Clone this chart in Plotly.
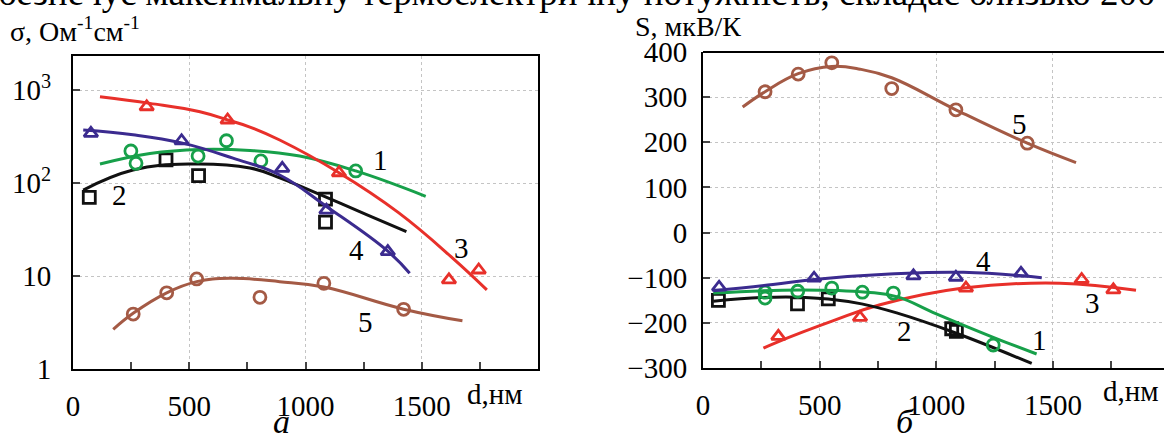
import math
import plotly.graph_objects as go

# ---------------- data: panel a (conductivity, log scale) ----------------
# markers
a1_d = [249, 271, 538, 660, 808, 1216]
a1_s = [221, 163, 195, 285, 173, 135]
a2_d = [70, 400, 540, 1086, 1086]
a2_s = [70, 177, 120, 67, 38]
a3_d = [317, 665, 1144, 1617, 1745]
a3_s = [661, 476, 129, 9.1, 11.6]
a4_d = [77, 467, 900, 1090, 1354]
a4_s = [342, 285, 144, 51, 18.3]
a5_d = [259, 403, 532, 804, 1079, 1422]
a5_s = [3.9, 6.6, 9.3, 5.9, 8.35, 4.38]
# fitted curves
a1_cd = [116, 331, 546, 761, 975, 1216, 1517]
a1_cs = [160, 208, 230, 224, 195, 135, 72]
a2_cd = [44, 258, 503, 761, 889, 975, 1086, 1260, 1434]
a2_cs = [84, 138, 160, 145, 114, 93, 71, 46, 30]
a3_cd = [116, 331, 546, 665, 761, 889, 1144, 1400, 1634, 1780]
a3_cs = [847, 719, 585, 476, 400, 290, 129, 48, 15.5, 7.1]
a4_cd = [44, 258, 467, 688, 889, 1090, 1354, 1448]
a4_cs = [371, 330, 270, 185, 122, 56, 18.5, 10.7]
a5_cd = [173, 260, 403, 532, 675, 889, 1079, 1422, 1675]
a5_cs = [2.67, 4.0, 6.6, 8.7, 9.45, 8.7, 7.6, 4.4, 3.3]

# ---------------- data: panel b (Seebeck coefficient) ----------------
b1_d = [266, 266, 406, 552, 683, 816, 1244]
b1_S = [-132, -145, -130, -123, -132, -134, -249]
b2_d = [66, 405, 537, 1066, 1086]
b2_S = [-150, -158, -147, -213, -219]
b3_d = [323, 673, 1127, 1623, 1759]
b3_S = [-230, -188, -123, -104, -127]
b4_d = [69, 476, 902, 1084, 1363]
b4_S = [-121, -101, -96, -99, -90]
b5_d = [266, 408, 552, 809, 1084, 1390]
b5_S = [312, 351, 376, 319, 272, 198]

b1_cd = [44, 416, 702, 830, 1000, 1244, 1430]
b1_cS = [-134, -127, -132, -142, -180, -232, -269]
b2_cd = [44, 250, 400, 537, 680, 830, 1086, 1409]
b2_cS = [-152, -144, -143, -147, -158, -178, -223, -290]
b3_cd = [259, 316, 559, 759, 1116, 1530, 1856]
b3_cS = [-256, -243, -195, -160, -123, -112, -128]
b4_cd = [44, 300, 476, 800, 1116, 1452]
b4_cS = [-129, -115, -104, -92, -88, -100]
b5_cd = [170, 266, 408, 552, 673, 809, 1084, 1390, 1599]
b5_cS = [278, 312, 352, 368, 362, 343, 272, 198, 155]

# curve labels
a_lab_txt = ["1", "2", "3", "4", "5"]
a_lab_d = [1324, 202, 1670, 1219, 1259]
a_lab_s = [177, 74, 20, 19, 3.2]
b_lab_txt = ["1", "2", "3", "4", "5"]
b_lab_d = [1441, 862, 1669, 1201, 1356]
b_lab_S = [-238, -219, -156, -64, 240]

x_ticks = [0, 500, 1000, 1500]
a_yticks = [1, 10, 100, 1000]
a_yticktext = ["1", "10", "10<sup>2</sup>", "10<sup>3</sup>"]
b_yticks = [-300, -200, -100, 0, 100, 200, 300, 400]

RED = "#e8302a"
GREEN = "#17a04a"
PURPLE = "#3b2b8f"
BLACK = "#111111"
BROWN = "#a45a45"
FONT = "Liberation Serif, Times New Roman, DejaVu Serif, serif"

fig = go.Figure()

def add_series(xc, yc, xm, ym, color, symbol, xa, ya):
    fig.add_trace(go.Scatter(x=xc, y=yc, mode="lines",
                             line=dict(color=color, width=3, shape="spline", smoothing=1.2),
                             xaxis=xa, yaxis=ya, showlegend=False, hoverinfo="skip"))
    fig.add_trace(go.Scatter(x=xm, y=ym, mode="markers",
                             marker=dict(symbol=symbol, size=12, color=color,
                                         line=dict(color=color, width=2.8)),
                             xaxis=xa, yaxis=ya, showlegend=False))

add_series(a5_cd, a5_cs, a5_d, a5_s, BROWN, "circle-open", "x", "y")
add_series(a2_cd, a2_cs, a2_d, a2_s, BLACK, "square-open", "x", "y")
add_series(a1_cd, a1_cs, a1_d, a1_s, GREEN, "circle-open", "x", "y")
add_series(a4_cd, a4_cs, a4_d, a4_s, PURPLE, "triangle-up-open", "x", "y")
add_series(a3_cd, a3_cs, a3_d, a3_s, RED, "triangle-up-open", "x", "y")

add_series(b5_cd, b5_cS, b5_d, b5_S, BROWN, "circle-open", "x2", "y2")
add_series(b3_cd, b3_cS, b3_d, b3_S, RED, "triangle-up-open", "x2", "y2")
add_series(b2_cd, b2_cS, b2_d, b2_S, BLACK, "square-open", "x2", "y2")
add_series(b1_cd, b1_cS, b1_d, b1_S, GREEN, "circle-open", "x2", "y2")
add_series(b4_cd, b4_cS, b4_d, b4_S, PURPLE, "triangle-up-open", "x2", "y2")

W, H = 1164, 439
def px(x):
    return x / W
def py(y):
    return 1 - y / H

tickfont = dict(family=FONT, size=29, color="black")
grid = dict(showgrid=True, gridcolor="#c4c4c4", griddash="dot", gridwidth=1)
common = dict(ticks="inside", ticklen=7, tickwidth=1.5, showline=True, linewidth=2, linecolor="black",
              zeroline=False, tickfont=tickfont, automargin=False)

fig.update_layout(
    width=W, height=H, margin=dict(l=0, r=0, t=0, b=0, autoexpand=False),
    paper_bgcolor="white", plot_bgcolor="white",
    font=dict(family=FONT, color="black"),
    xaxis=dict(domain=[px(73), px(538)], range=[0, 2000], tickvals=x_ticks, mirror=True,
               ticklabelstandoff=10,
               minor=dict(dtick=250, ticks="inside", ticklen=7, tickwidth=1.5, showgrid=False),
               anchor="y", **common, **grid),
    yaxis=dict(domain=[py(369), py(56)], type="log", range=[0, 3.366], tickvals=a_yticks, ticktext=a_yticktext,
               mirror=True, ticklabelstandoff=14, anchor="x", **common, **grid),
    xaxis2=dict(domain=[px(703), 1.0], range=[0, 1976], tickvals=x_ticks, ticklabelstandoff=10,
                minor=dict(dtick=250, ticks="inside", ticklen=7, tickwidth=1.5, showgrid=False),
                anchor="y2", **common, **grid),
    yaxis2=dict(domain=[py(368), py(52)], range=[-300, 400], tickvals=b_yticks, ticklabelstandoff=8,
                anchor="x2", **common, **grid),
)

# top frame line of panel b
fig.add_shape(type="line", xref="x2 domain", yref="y2 domain", x0=0, x1=1, y0=1, y1=1,
              line=dict(color="black", width=2))

annots = []
for t, xv, yv in zip(a_lab_txt, a_lab_d, a_lab_s):
    annots.append(dict(text=t, x=xv, y=math.log10(yv), xref="x", yref="y", showarrow=False,
                       font=dict(family=FONT, size=29, color="black")))
for t, xv, yv in zip(b_lab_txt, b_lab_d, b_lab_S):
    annots.append(dict(text=t, x=xv, y=yv, xref="x2", yref="y2", showarrow=False,
                       font=dict(family=FONT, size=29, color="black")))

annots += [
    dict(text="σ, Ом<sup>-1</sup>см<sup>-1</sup>", x=px(8), y=py(29), xref="paper", yref="paper",
         xanchor="left", yanchor="middle", showarrow=False, font=dict(family=FONT, size=28)),
    dict(text="S, мкВ/К", x=px(633), y=py(26), xref="paper", yref="paper",
         xanchor="left", yanchor="middle", showarrow=False, font=dict(family=FONT, size=28)),
    dict(text="d,нм", x=px(495), y=py(394), xref="paper", yref="paper",
         xanchor="center", yanchor="middle", showarrow=False, font=dict(family=FONT, size=29)),
    dict(text="d,нм", x=px(1131), y=py(391), xref="paper", yref="paper",
         xanchor="center", yanchor="middle", showarrow=False, font=dict(family=FONT, size=29)),
    dict(text="<i>а</i>", x=px(281), y=py(421), xref="paper", yref="paper",
         xanchor="center", yanchor="middle", showarrow=False, font=dict(family=FONT, size=34)),
    dict(text="<i>б</i>", x=px(905), y=py(421), xref="paper", yref="paper",
         xanchor="center", yanchor="middle", showarrow=False, font=dict(family=FONT, size=34)),
    dict(text="безпечує максимальну термоелектричну потужність, складає близько 200",
         x=px(-4), y=py(15), xref="paper", yref="paper", xanchor="left", yanchor="bottom",
         showarrow=False, font=dict(family=FONT, size=37)),
]
fig.update_layout(annotations=annots)

fig.write_html("out.html", config={"displayModeBar": False},
               post_script="document.body.style.margin='0';document.body.style.overflow='hidden';")
